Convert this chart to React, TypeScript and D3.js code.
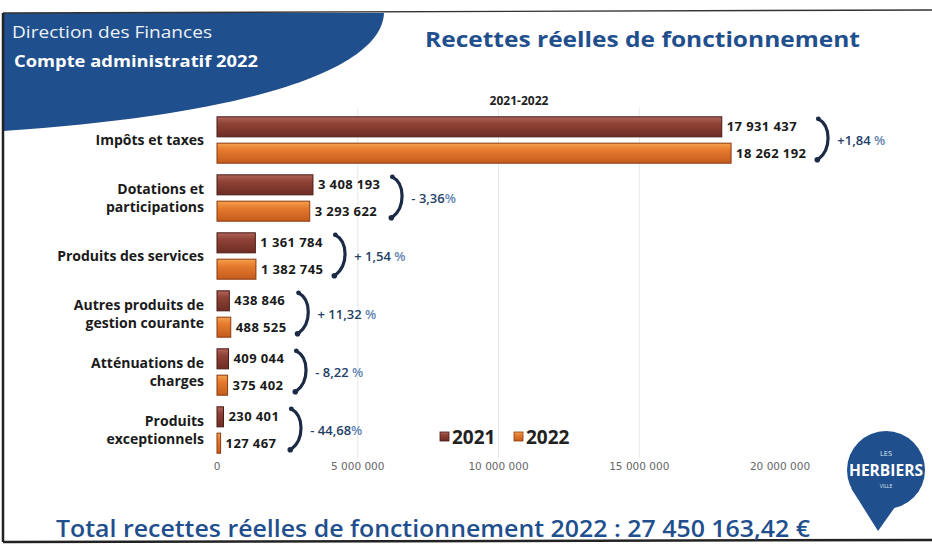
import React, { useEffect, useRef } from 'react';
import * as d3 from 'd3';

const categories = [
  'Impôts et taxes',
  'Dotations et participations',
  'Produits des services',
  'Autres produits de gestion courante',
  'Atténuations de charges',
  'Produits exceptionnels',
];
const categoryLines = [
  ['Impôts et taxes'],
  ['Dotations et', 'participations'],
  ['Produits des services'],
  ['Autres produits de', 'gestion courante'],
  ['Atténuations de', 'charges'],
  ['Produits', 'exceptionnels'],
];
const years = ['2021', '2022'];
const values2021 = [17931437, 3408193, 1361784, 438846, 409044, 230401];
const values2022 = [18262192, 3293622, 1382745, 488525, 375402, 127467];
const evolutions = ['+1,84 %', '- 3,36%', '+ 1,54 %', '+ 11,32 %', '- 8,22 %', '- 44,68%'];
const ticks = [0, 5000000, 10000000, 15000000, 20000000];

const W = 932;
const H = 547;
const blue = '#1f4f8d';
const navy = '#1c2b45';
const c2021 = '#8e4236';
const c2022 = '#e57a2f';

const fr = d3.formatLocale({ decimal: ',', thousands: '\u00a0', grouping: [3], currency: ['', ' €'] });
const fmt = fr.format(',d');

const App: React.FC = () => {
  const svgRef = useRef<SVGSVGElement | null>(null);

  useEffect(() => {
    if (!svgRef.current) return;
    const svg = d3.select(svgRef.current);
    svg.selectAll('*').remove();

    const x = d3.scaleLinear().domain([0, 20000000]).range([217, 780]);
    const y = d3.scaleBand().domain(categories).range([111, 459]).paddingInner(0.2).paddingOuter(0.1);
    const ySub = d3.scaleBand().domain(years).range([0, y.bandwidth()]).paddingInner(0.24);

    const defs = svg.append('defs');
    const grad = (id: string, top: string, mid: string, bot: string) => {
      const g = defs.append('linearGradient').attr('id', id).attr('x1', 0).attr('x2', 0).attr('y1', 0).attr('y2', 1);
      g.append('stop').attr('offset', '0%').attr('stop-color', top);
      g.append('stop').attr('offset', '35%').attr('stop-color', mid);
      g.append('stop').attr('offset', '100%').attr('stop-color', bot);
    };
    grad('g2021', '#b0645a', c2021, '#6e2c24');
    grad('g2022', '#f5a24e', c2022, '#c45c1c');

    svg.append('rect').attr('width', W).attr('height', H).attr('fill', '#fff');

    // header shape + frame
    svg.append('path')
      .attr('d', 'M3,13 L384,13 C382,62 280,112 3,131 Z')
      .attr('fill', blue);
    svg.append('line').attr('x1', 3).attr('x2', W).attr('y1', 13).attr('y2', 10).attr('stroke', '#333').attr('stroke-width', 1.4);
    svg.append('line').attr('x1', 3).attr('x2', 3).attr('y1', 13).attr('y2', 542).attr('stroke', '#222').attr('stroke-width', 2.5);
    svg.append('line').attr('x1', 3).attr('x2', W).attr('y1', 542).attr('y2', 540).attr('stroke', '#222').attr('stroke-width', 2.5);

    svg.append('text').attr('x', 12).attr('y', 38).attr('fill', '#eef2f8')
      .attr('textLength', 200).attr('lengthAdjust', 'spacingAndGlyphs')
      .style('font', '400 16.5px "Open Sans", sans-serif').text('Direction des Finances');
    svg.append('text').attr('x', 14).attr('y', 67).attr('fill', '#fff')
      .attr('textLength', 244).attr('lengthAdjust', 'spacingAndGlyphs')
      .style('font', '700 16.5px "Open Sans", sans-serif').text('Compte administratif 2022');

    svg.append('text').attr('x', 425).attr('y', 47).attr('fill', blue)
      .attr('textLength', 435).attr('lengthAdjust', 'spacingAndGlyphs')
      .style('font', '700 22px "Open Sans", sans-serif').text('Recettes réelles de fonctionnement');

    svg.append('text').attr('x', 519).attr('y', 105).attr('text-anchor', 'middle').attr('fill', '#222')
      .style('font', '700 12px "Open Sans", sans-serif').text('2021-2022');

    // gridlines
    svg.append('g').selectAll('line').data(ticks.slice(1, 4)).join('line')
      .attr('x1', d => x(d)).attr('x2', d => x(d))
      .attr('y1', 108).attr('y2', 458)
      .attr('stroke', '#e8e8e8').attr('stroke-width', 1);

    // axis tick labels
    svg.append('g').selectAll('text').data(ticks).join('text')
      .attr('x', d => x(d)).attr('y', 470).attr('text-anchor', 'middle')
      .attr('fill', '#666')
      .style('font', '400 10.5px "DejaVu Sans", sans-serif')
      .text(d => fmt(d));

    // category labels
    const cat = svg.append('g').selectAll('text').data(categories).join('text')
      .attr('text-anchor', 'end').attr('fill', '#1a1a1a')
      .style('font', '700 14px "Open Sans", sans-serif');
    cat.each(function (d, i) {
      const lines = categoryLines[i];
      const cy = (y(d) ?? 0) + y.bandwidth() / 2;
      const t = d3.select(this);
      lines.forEach((l, j) => {
        t.append('tspan').attr('x', 204)
          .attr('y', cy + 5 + (j - (lines.length - 1) / 2) * 18)
          .text(l);
      });
    });

    const series = [
      { year: '2021', values: values2021, fill: 'url(#g2021)', stroke: '#4a1a14' },
      { year: '2022', values: values2022, fill: 'url(#g2022)', stroke: '#8a3a10' },
    ];

    const labelEnds: number[][] = categories.map(() => []);
    series.forEach(s => {
      const g = svg.append('g');
      g.selectAll('rect').data(s.values).join('rect')
        .attr('x', x(0))
        .attr('y', (d, i) => (y(categories[i]) ?? 0) + (ySub(s.year) ?? 0))
        .attr('width', d => x(d) - x(0))
        .attr('height', ySub.bandwidth())
        .attr('fill', s.fill)
        .attr('stroke', s.stroke).attr('stroke-width', 1);
      g.selectAll('text').data(s.values).join('text')
        .attr('x', d => x(d) + 5)
        .attr('y', (d, i) => (y(categories[i]) ?? 0) + (ySub(s.year) ?? 0) + ySub.bandwidth() / 2 + 4.5)
        .attr('fill', '#1a1a1a')
        .style('font', '700 13px "Open Sans", sans-serif')
        .style('letter-spacing', '0.4px')
        .text(d => fmt(d))
        .each(function (d, i) {
          labelEnds[i].push(x(d) + 5 + (this as SVGTextElement).getComputedTextLength());
        });
    });

    // braces + evolution
    const br = svg.append('g');
    categories.forEach((c, i) => {
      const x0 = d3.max(labelEnds[i]) ?? 0;
      const bx = x0 + 12;
      const top = (y(c) ?? 0) + 2;
      const bot = (y(c) ?? 0) + y.bandwidth() - 4;
      br.append('path')
        .attr('d', `M${bx},${top} C${bx + 13},${top + 7} ${bx + 13},${bot - 10} ${bx},${bot}`)
        .attr('fill', 'none').attr('stroke', navy).attr('stroke-width', 3.2)
        .attr('stroke-linecap', 'round');
      br.append('circle').attr('cx', bx).attr('cy', top).attr('r', 2.4).attr('fill', navy);
      br.append('circle').attr('cx', bx - 1).attr('cy', bot + 0.5).attr('r', 2.8).attr('fill', navy);
      const [num, ...rest] = evolutions[i].split('%');
      const t = br.append('text')
        .attr('x', bx + 19).attr('y', (y(c) ?? 0) + y.bandwidth() / 2 + 4.5)
        .attr('fill', '#243f66')
        .style('font', '600 13px "Open Sans", sans-serif');
      t.append('tspan').text(num);
      if (rest.length) t.append('tspan').attr('fill', '#5f84b0').text('%');
    });

    // legend
    const lg = svg.append('g').attr('transform', 'translate(440,437)');
    series.forEach((s, i) => {
      const gx = i * 74;
      lg.append('rect').attr('x', gx).attr('y', -5).attr('width', 9).attr('height', 9)
        .attr('fill', s.fill).attr('stroke', s.stroke).attr('stroke-width', 0.8);
      lg.append('text').attr('x', gx + 12).attr('y', 7).attr('fill', '#222')
        .style('font', '700 19px "Open Sans", sans-serif').text(s.year);
    });

    // logo
    const logo = svg.append('g');
    logo.append('path')
      .attr('d', 'M851,488 L878,531 L895,507 Z')
      .attr('fill', blue);
    logo.append('circle').attr('cx', 886).attr('cy', 470).attr('r', 39).attr('fill', blue);
    logo.append('text').attr('x', 886).attr('y', 456).attr('text-anchor', 'middle').attr('fill', '#dfe7f2')
      .style('font', '400 7.5px "Open Sans", sans-serif').text('LES');
    logo.append('text').attr('x', 886).attr('y', 476).attr('text-anchor', 'middle').attr('fill', '#fff')
      .attr('textLength', 74).attr('lengthAdjust', 'spacingAndGlyphs')
      .style('font', '700 16px "Open Sans", sans-serif').text('HERBIERS');
    logo.append('text').attr('x', 886).attr('y', 488).attr('text-anchor', 'middle').attr('fill', '#dfe7f2')
      .style('font', '400 5px "Open Sans", sans-serif').text('VILLE');

    // total
    svg.append('text').attr('x', 56).attr('y', 537).attr('fill', blue)
      .attr('textLength', 754).attr('lengthAdjust', 'spacingAndGlyphs')
      .style('font', '600 23px "Open Sans", sans-serif')
      .text('Total recettes réelles de fonctionnement 2022 : 27 450 163,42 €');
  }, []);

  return (
    <div style={{ position: 'absolute', left: 0, top: 0 }}>
      <svg ref={svgRef} width={W} height={H} style={{ display: 'block' }}></svg>
    </div>
  );
};

export default App;
